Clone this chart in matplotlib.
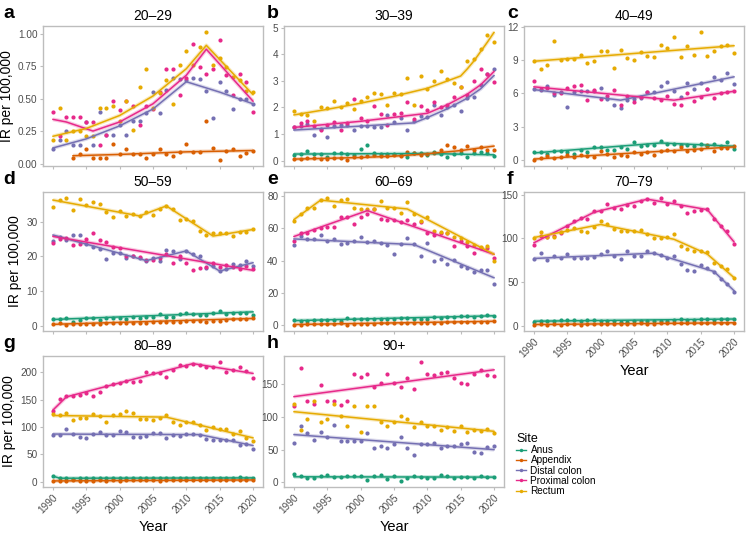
import numpy as np
import matplotlib
matplotlib.use("Agg")
import matplotlib.pyplot as plt
from matplotlib.lines import Line2D

plt.rcParams["font.family"] = ["Liberation Sans", "DejaVu Sans"]

years = list(range(1990, 2021))
sites = ["Anus", "Appendix", "Distal colon", "Proximal colon", "Rectum"]
colors = {"Anus": "#1B9E77", "Appendix": "#D95F02", "Distal colon": "#7570B3",
          "Proximal colon": "#E7298A", "Rectum": "#E6AB02"}

# ---- observed rates (IR per 100,000), 1990-2020 ----
pts_2029 = {
    "Appendix": [None, None, None, 0.04, 0.07, 0.11, 0.04, 0.04, 0.04, 0.15, 0.07, 0.11, 0.07, 0.07, 0.04, 0.07,
                 0.11, 0.07, 0.06, 0.09, 0.15, 0.09, 0.09, 0.33, 0.12, 0.03, 0.10, 0.11, 0.06, 0.08, 0.10],
    "Distal colon": [0.11, 0.18, 0.25, 0.14, 0.14, 0.32, 0.14, 0.40, 0.22, 0.22, 0.30, 0.22, 0.33, 0.33, 0.39, 0.55,
                     0.39, 0.57, 0.66, 0.65, 0.64, 0.66, 0.65, 0.56, 0.35, 0.63, 0.56, 0.42, 0.50, 0.50, 0.46],
    "Proximal colon": [0.40, 0.21, 0.36, 0.36, 0.36, 0.32, 0.32, 0.14, 0.22, 0.48, 0.41, 0.48, 0.44, 0.30, 0.44, 0.42,
                       0.55, 0.73, 0.73, 0.53, 0.66, 0.92, 0.74, 0.69, 0.73, 0.95, 0.68, 0.53, 0.69, 0.63, 0.40],
    "Rectum": [0.18, 0.43, 0.18, 0.25, 0.25, 0.21, 0.21, 0.43, 0.43, 0.44, 0.33, 0.48, 0.26, 0.59, 0.73, 0.43,
               0.54, 0.64, 0.46, 0.76, 0.87, 0.76, 0.90, 1.01, 0.76, 0.81, 0.74, 0.67, 0.64, 0.56, 0.55],
}
pts_3039 = {
    "Anus": [0.22, 0.24, 0.35, 0.26, 0.25, 0.15, 0.29, 0.28, 0.24, 0.22, 0.45, 0.60, 0.28, 0.26, 0.25, 0.27,
             0.22, 0.15, 0.30, 0.30, 0.22, 0.32, 0.24, 0.15, 0.25, 0.30, 0.14, 0.30, 0.31, 0.28, 0.17],
    "Appendix": [0.06, 0.06, 0.10, 0.10, 0.06, 0.06, 0.12, 0.12, 0.04, 0.15, 0.15, 0.17, 0.20, 0.17, 0.19, 0.20,
                 0.17, 0.32, 0.28, 0.22, 0.25, 0.30, 0.40, 0.60, 0.52, 0.40, 0.56, 0.42, 0.50, 0.40, 0.40],
    "Distal colon": [1.25, 1.30, 1.39, 0.95, 1.20, 0.90, 1.30, 1.35, 1.35, 1.17, 1.30, 1.30, 1.28, 1.25, 1.72, 1.45,
                     1.60, 1.17, 1.50, 1.68, 1.65, 2.10, 1.70, 2.02, 2.11, 1.86, 2.36, 2.40, 2.86, 3.24, 3.43],
    "Proximal colon": [1.25, 1.43, 1.49, 1.30, 1.14, 1.35, 1.44, 1.14, 1.41, 2.31, 1.59, 1.49, 2.05, 1.75, 1.34, 1.74,
                       1.80, 2.20, 1.58, 2.05, 1.90, 2.20, 2.00, 2.10, 2.38, 2.75, 2.47, 3.00, 3.45, 3.25, 2.96],
    "Rectum": [1.86, 1.74, 1.71, 1.49, 2.03, 1.99, 2.25, 2.03, 2.18, 1.96, 2.24, 2.41, 2.53, 2.51, 2.10, 2.53,
               2.49, 3.09, 2.10, 3.18, 2.71, 3.00, 3.38, 3.05, 2.92, 2.75, 3.75, 3.83, 4.18, 4.71, 4.45],
}
pts_4049 = {
    "Anus": [0.7, 0.7, 0.6, 0.8, 0.8, 0.7, 0.6, 0.9, 0.7, 1.2, 1.2, 0.9, 0.9, 1.2, 1.0, 1.6,
             1.3, 1.4, 1.4, 1.7, 1.5, 1.5, 1.4, 1.4, 1.3, 1.5, 1.3, 1.5, 1.3, 1.6, 1.0],
    "Appendix": [0.05, 0.2, 0.35, 0.2, 0.3, 0.45, 0.3, 0.5, 0.35, 0.3, 0.8, 0.6, 0.25, 0.5, 0.4, 0.7,
                 0.6, 0.7, 0.5, 0.8, 0.9, 0.8, 1.2, 0.85, 0.9, 1.0, 1.4, 0.8, 1.1, 1.1, 1.3],
    "Distal colon": [6.4, 6.3, 6.7, 5.9, 6.1, 4.8, 6.1, 6.2, 6.2, 6.2, 6.5, 5.5, 5.0, 4.7, 5.4, 5.5,
                     5.6, 6.1, 6.1, 6.7, 7.0, 6.2, 5.7, 6.9, 6.4, 6.9, 6.4, 7.45, 7.25, 7.85, 6.85],
    "Proximal colon": [7.1, 6.4, 6.5, 6.0, 6.0, 6.5, 6.7, 6.8, 5.4, 6.3, 5.5, 5.8, 6.3, 5.0, 5.8, 5.2,
                       5.7, 6.1, 5.6, 5.4, 5.8, 5.1, 5.0, 6.0, 5.3, 5.7, 6.4, 5.6, 6.0, 6.1, 6.2],
    "Rectum": [8.9, 8.2, 8.6, 10.7, 9.0, 9.1, 9.1, 9.5, 8.7, 8.9, 9.8, 9.8, 8.3, 9.9, 9.2, 9.0,
               9.7, 9.4, 9.3, 10.4, 10.1, 11.1, 9.3, 10.3, 9.5, 11.5, 9.4, 9.8, 10.3, 10.4, 9.6],
}
pts_5059 = {
    "Anus": [1.8, 1.9, 2.2, 1.1, 1.7, 2.1, 2.2, 1.7, 2.1, 2.3, 2.2, 1.8, 2.4, 2.3, 2.4, 2.5,
             3.4, 2.4, 2.5, 3.4, 3.6, 3.5, 3.2, 3.0, 3.7, 4.3, 3.5, 3.7, 3.8, 3.6, 3.2],
    "Appendix": [0.4, 0.7, 0.3, 0.5, 0.5, 0.6, 0.6, 0.6, 0.7, 0.7, 0.8, 0.8, 0.9, 0.8, 0.7, 1.0,
                 1.0, 1.2, 1.1, 1.2, 1.3, 1.4, 1.3, 1.2, 1.4, 1.5, 1.7, 1.8, 1.9, 2.0, 2.2],
    "Distal colon": [24.5, 25.7, 24.8, 26.2, 26.3, 23.7, 22.8, 22.1, 19.2, 20.9, 20.9, 19.6, 20.0, 19.6, 18.7, 19.6,
                     18.8, 21.8, 21.5, 19.2, 21.5, 20.6, 20.0, 16.8, 17.2, 15.8, 16.3, 17.7, 17.6, 18.8, 17.2],
    "Proximal colon": [24.0, 25.0, 25.3, 23.4, 23.6, 25.1, 26.8, 24.8, 24.2, 22.6, 22.5, 20.0, 20.2, 19.9, 19.0, 19.0,
                       19.5, 20.8, 18.0, 20.1, 18.2, 16.2, 16.8, 16.9, 18.0, 17.0, 17.6, 17.1, 16.5, 17.2, 16.5],
    "Rectum": [34.3, 36.2, 36.8, 33.3, 36.5, 34.9, 35.8, 35.3, 32.9, 31.4, 33.1, 31.7, 32.2, 31.6, 32.8, 31.9,
               33.6, 34.6, 33.6, 30.6, 30.8, 30.2, 27.4, 26.3, 26.8, 26.8, 26.8, 25.8, 27.1, 27.0, 28.0],
}
pts_6069 = {
    "Anus": [3.2, 3.0, 3.0, 3.2, 3.3, 3.1, 3.5, 3.0, 4.4, 3.8, 4.0, 4.3, 4.0, 3.9, 4.2, 4.3,
             4.5, 4.4, 4.3, 3.8, 4.0, 5.0, 4.8, 5.2, 5.0, 5.9, 5.6, 5.4, 5.7, 6.2, 5.8],
    "Appendix": [0.5, 0.6, 0.8, 0.8, 1.0, 0.9, 1.0, 1.5, 0.6, 1.2, 1.1, 1.2, 1.2, 1.3, 1.3, 1.4,
                 1.4, 1.5, 1.5, 1.6, 1.6, 1.7, 1.8, 2.0, 1.9, 2.0, 2.2, 2.4, 2.2, 2.3, 2.7],
    "Distal colon": [49.5, 55.5, 53.5, 53.5, 55.8, 52.0, 53.5, 50.2, 51.0, 52.0, 54.5, 51.3, 52.3, 51.0, 49.5, 44.0,
                     50.4, 54.0, 50.5, 43.0, 51.0, 40.0, 41.0, 37.8, 40.2, 37.0, 35.3, 32.8, 34.5, 34.3, 25.6],
    "Proximal colon": [52, 57, 57, 59, 60, 61, 61, 67, 67, 63, 67, 69, 72, 66, 65, 65,
                       64, 65, 63, 64, 57, 56, 57, 57, 49, 52, 49, 45, 48, 48, 42],
    "Rectum": [64.8, 68.8, 72.5, 72.9, 77.4, 78.6, 73.9, 77.4, 78.0, 72.9, 71.9, 71.9, 71.9, 77.0, 72.9, 72.5,
               69.8, 76.4, 69.2, 64.8, 66.8, 58.7, 57.6, 57.2, 54.6, 54.0, 51.5, 49.5, 48.5, 48.9, 40.0],
}
pts_7079 = {
    "Anus": [4.5, 5.5, 5.0, 5.5, 6.5, 6.0, 6.5, 5.0, 6.0, 6.5, 5.5, 5.0, 5.0, 4.0, 4.5, 5.5,
             5.0, 5.5, 5.5, 5.0, 5.5, 6.0, 7.5, 6.0, 6.5, 7.0, 7.0, 6.5, 7.5, 7.0, 7.5],
    "Appendix": [1.0, 1.5, 1.0, 1.5, 1.0, 1.5, 1.5, 1.0, 1.5, 1.5, 2.0, 2.0, 2.0, 2.0, 2.0, 2.0,
                 2.5, 2.0, 2.0, 2.5, 2.5, 2.5, 3.0, 2.5, 3.0, 2.5, 3.0, 3.0, 3.5, 3.0, 3.5],
    "Distal colon": [76, 83, 75, 80, 78, 82, 78, 78, 77, 79, 82, 86, 80, 76, 85, 80,
                     80, 85, 83, 81, 78, 80, 71, 64, 63, 70, 66, 61, 53, 48, 38],
    "Proximal colon": [92, 103, 102, 103, 106, 114, 120, 123, 122, 131, 131, 139, 135, 134, 138, 137,
                       143, 145, 141, 146, 140, 143, 137, 129, 131, 133, 134, 122, 114, 108, 94],
    "Rectum": [101, 107, 102, 102, 107, 110, 112, 108, 107, 113, 120, 117, 111, 109, 108, 109,
               110, 105, 101, 101, 102, 105, 91, 88, 85, 85, 84, 72, 68, 65, 54],
}
pts_8089 = {
    "Anus": [11, 6, 7, 5, 6, 6, 7, 6, 6, 6, 6, 6, 6, 7, 6, 7,
             6, 6, 6, 6, 6, 7, 7, 6, 6, 6, 6, 7, 9, 6, 7],
    "Appendix": [1, 1, 1, 2, 1, 1, 1, 2, 1, 2, 1, 2, 2, 2, 2, 2,
                 1, 2, 2, 2, 2, 2, 2, 3, 2, 2, 3, 3, 3, 3, 3],
    "Distal colon": [86, 86, 96, 88, 82, 80, 87, 91, 86, 85, 93, 90, 81, 82, 84, 89,
                     89, 79, 86, 84, 88, 88, 85, 78, 77, 76, 77, 77, 67, 68, 60],
    "Proximal colon": [130, 152, 156, 156, 158, 163, 157, 164, 175, 178, 181, 185, 182, 184, 201, 198,
                       199, 191, 204, 213, 211, 215, 213, 210, 210, 219, 201, 205, 210, 203, 190],
    "Rectum": [123, 122, 125, 112, 116, 116, 123, 120, 110, 121, 124, 129, 126, 114, 115, 112,
               117, 122, 109, 103, 110, 110, 103, 95, 100, 97, 96, 87, 92, 80, 74],
}
pts_90 = {
    "Anus": [13, 10, 6, 6, 9, 12, 8, 8, 10, 9, 9, 3, 9, 11, 5, 9,
             2, 7, 9, 8, 6, 6, 12, 9, 6, 8, 8, 7, 9, 8, 8],
    "Distal colon": [60, 86, 75, 65, 77, 70, 87, 63, 63, 63, 63, 76, 53, 55, 53, 59,
                     70, 53, 42, 58, 58, 60, 52, 55, 55, 58, 60, 46, 45, 54, 56],
    "Proximal colon": [117, 174, 124, 119, 149, 124, 124, 118, 124, 166, 161, 165, 145, 152, 165, 152,
                       146, 159, 143, 184, 165, 164, 167, 169, 160, 152, 150, 165, 172, 164, 163],
    "Rectum": [119, 80, 97, 124, 93, 97, 119, 102, 86, 116, 77, 117, 117, 92, 86, 93,
               102, 97, 84, 92, 86, 86, 80, 84, 79, 86, 77, 80, 78, 81, 75],
}

# ---- joinpoint fitted trends: (year, rate) at segment ends ----
fit_2029 = {
    "Appendix": [(1993, 0.06), (2000, 0.07), (2010, 0.09), (2020, 0.10)],
    "Distal colon": [(1990, 0.12), (1995, 0.19), (2000, 0.29), (2005, 0.42), (2010, 0.63), (2015, 0.55), (2020, 0.46)],
    "Proximal colon": [(1990, 0.34), (1992, 0.32), (1996, 0.25), (2000, 0.32), (2005, 0.46), (2010, 0.68),
                       (2013, 0.88), (2020, 0.48)],
    "Rectum": [(1990, 0.21), (1995, 0.27), (2000, 0.37), (2005, 0.52), (2010, 0.73), (2013, 0.91), (2020, 0.53)],
}
fit_3039 = {
    "Anus": [(1990, 0.25), (2010, 0.27), (2020, 0.22)],
    "Appendix": [(1990, 0.06), (2000, 0.12), (2005, 0.17), (2010, 0.26), (2015, 0.38), (2020, 0.55)],
    "Distal colon": [(1990, 1.15), (2000, 1.30), (2008, 1.42), (2010, 1.62), (2013, 1.95), (2016, 2.35),
                     (2018, 2.70), (2020, 3.20)],
    "Proximal colon": [(1990, 1.25), (2000, 1.48), (2010, 1.78), (2013, 2.10), (2016, 2.50), (2018, 2.85),
                       (2020, 3.35)],
    "Rectum": [(1990, 1.72), (1995, 1.93), (2000, 2.16), (2005, 2.42), (2010, 2.72), (2015, 3.18), (2016, 3.45),
               (2017, 3.75), (2018, 4.10), (2019, 4.45), (2020, 4.82)],
}
fit_4049 = {
    "Anus": [(1990, 0.65), (2009, 1.55), (2020, 1.25)],
    "Appendix": [(1990, 0.1), (2020, 1.2)],
    "Distal colon": [(1990, 6.35), (2003, 5.4), (2020, 7.5)],
    "Proximal colon": [(1990, 6.6), (2011, 5.4), (2020, 6.2)],
    "Rectum": [(1990, 8.9), (2020, 10.3)],
}
fit_5059 = {
    "Anus": [(1990, 1.8), (2020, 4.0)],
    "Appendix": [(1990, 0.4), (2020, 2.1)],
    "Distal colon": [(1990, 26.2), (2004, 18.8), (2010, 21.6), (2015, 15.8), (2020, 18.2)],
    "Proximal colon": [(1990, 25.8), (2020, 16.0)],
    "Rectum": [(1990, 36.3), (2003, 31.7), (2007, 34.6), (2014, 25.9), (2020, 27.8)],
}
fit_6069 = {
    "Anus": [(1990, 3.0), (2020, 6.0)],
    "Appendix": [(1990, 0.6), (2020, 2.6)],
    "Distal colon": [(1990, 53.5), (2008, 50.0), (2020, 29.5)],
    "Proximal colon": [(1990, 55), (2001, 71), (2020, 44)],
    "Rectum": [(1990, 65.5), (1994, 77.5), (2007, 72.0), (2020, 44.0)],
}
fit_7079 = {
    "Anus": [(1990, 5.0), (2020, 7.5)],
    "Appendix": [(1990, 1.2), (2020, 3.2)],
    "Distal colon": [(1990, 77), (2008, 83), (2017, 62), (2020, 40)],
    "Proximal colon": [(1990, 95), (1999, 130), (2007, 145), (2016, 133), (2020, 96)],
    "Rectum": [(1990, 101), (2000, 116), (2011, 99), (2016, 82), (2020, 55)],
}
fit_8089 = {
    "Anus": [(1990, 10), (1991, 6.2), (2020, 6.8)],
    "Appendix": [(1990, 1.2), (2020, 3.0)],
    "Distal colon": [(1990, 87), (2012, 86), (2020, 66)],
    "Proximal colon": [(1990, 131), (1992, 155), (2011, 216), (2020, 198)],
    "Rectum": [(1990, 121), (2007, 118), (2020, 80)],
}
fit_90 = {
    "Anus": [(1990, 8.5), (2020, 8.0)],
    "Distal colon": [(1990, 73), (2020, 50)],
    "Proximal colon": [(1990, 131), (2020, 172)],
    "Rectum": [(1990, 108), (2020, 78)],
}

panel_titles = ["20\u201329", "30\u201339", "40\u201349", "50\u201359", "60\u201369", "70\u201379", "80\u201389", "90+"]
panel_letters = ["a", "b", "c", "d", "e", "f", "g", "h"]
panel_pts = [pts_2029, pts_3039, pts_4049, pts_5059, pts_6069, pts_7079, pts_8089, pts_90]
panel_fit = [fit_2029, fit_3039, fit_4049, fit_5059, fit_6069, fit_7079, fit_8089, fit_90]
panel_yticks = [[0, 0.25, 0.5, 0.75, 1.0], [0, 1, 2, 3, 4, 5], [0, 3, 6, 9, 12], [0, 10, 20, 30],
                [0, 20, 40, 60, 80], [0, 50, 100, 150], [0, 50, 100, 150, 200], [0, 50, 100, 150]]
xticks = [1990, 1995, 2000, 2005, 2010, 2015, 2020]

W, H = 750, 533
fig = plt.figure(figsize=(W / 100, H / 100), dpi=100)

# layout in pixels: column lefts, row tops/heights
col_left = [43, 284, 524]
col_w = 220
row_top = [26, 192, 356]
row_h = [140, 139, 131]
grid = [(0, 0), (0, 1), (0, 2), (1, 0), (1, 1), (1, 2), (2, 0), (2, 1)]
letter_x = [3, 267, 507]

grey_txt = "#4D4D4D"
border = "#BDBDBD"

for i, (r, c) in enumerate(grid):
    l, t, h = col_left[c], row_top[r], row_h[r]
    ax = fig.add_axes([l / W, 1 - (t + h) / H, col_w / W, h / H])
    pts, fit = panel_pts[i], panel_fit[i]
    for s in sites:
        if s not in pts:
            continue
        y = np.array([np.nan if v is None else v for v in pts[s]], dtype=float)
        ax.plot(years, y, "o", ms=3.0, mec="none", color=colors[s], zorder=2)
    for s in sites:
        if s not in fit:
            continue
        fx = [p[0] for p in fit[s]]
        fy = [p[1] for p in fit[s]]
        ax.plot(fx, fy, color=colors[s], lw=2.8, alpha=0.25, solid_capstyle="butt", zorder=3)
        ax.plot(fx, fy, color=colors[s], lw=1.1, zorder=4)
    ax.set_xlim(1988.5, 2021.5)
    ax.margins(y=0.05)
    ax.set_xticks(xticks)
    yt = panel_yticks[i]
    ax.set_yticks(yt)
    if i == 0:
        ax.set_yticklabels(["%.2f" % v for v in yt])
    for sp in ax.spines.values():
        sp.set_color(border)
        sp.set_linewidth(1.0)
    ax.tick_params(axis="both", colors=border, length=2.5, width=0.8, labelsize=7.2,
                   labelcolor=grey_txt, pad=1.5)
    if i in (5, 6, 7):
        ax.set_xticklabels([str(v) for v in xticks], rotation=45, ha="right", rotation_mode="anchor")
        ax.set_xlabel("Year", fontsize=10.5, labelpad=3)
    else:
        ax.set_xticklabels([])
    if c == 0:
        ax.set_ylabel("IR per 100,000", fontsize=10, labelpad=3)
    ax.set_title(panel_titles[i], fontsize=10, pad=4)
    fig.text(letter_x[c] / W, 1 - (t - 8) / H, panel_letters[i], fontsize=14, fontweight="bold",
             ha="left", va="baseline")

handles = [Line2D([], [], color=colors[s], marker="o", ms=2.5, lw=1.0, mec="none") for s in sites]
leg = fig.legend(handles, sites, loc="upper left", bbox_to_anchor=(516 / W, 1 - 433 / H), frameon=False,
                 title="Site", fontsize=7.2, title_fontsize=9, handlelength=1.0, handletextpad=0.45,
                 labelspacing=0.02, borderaxespad=0, borderpad=0, alignment="left")

fig.savefig("out.png", dpi=100)
